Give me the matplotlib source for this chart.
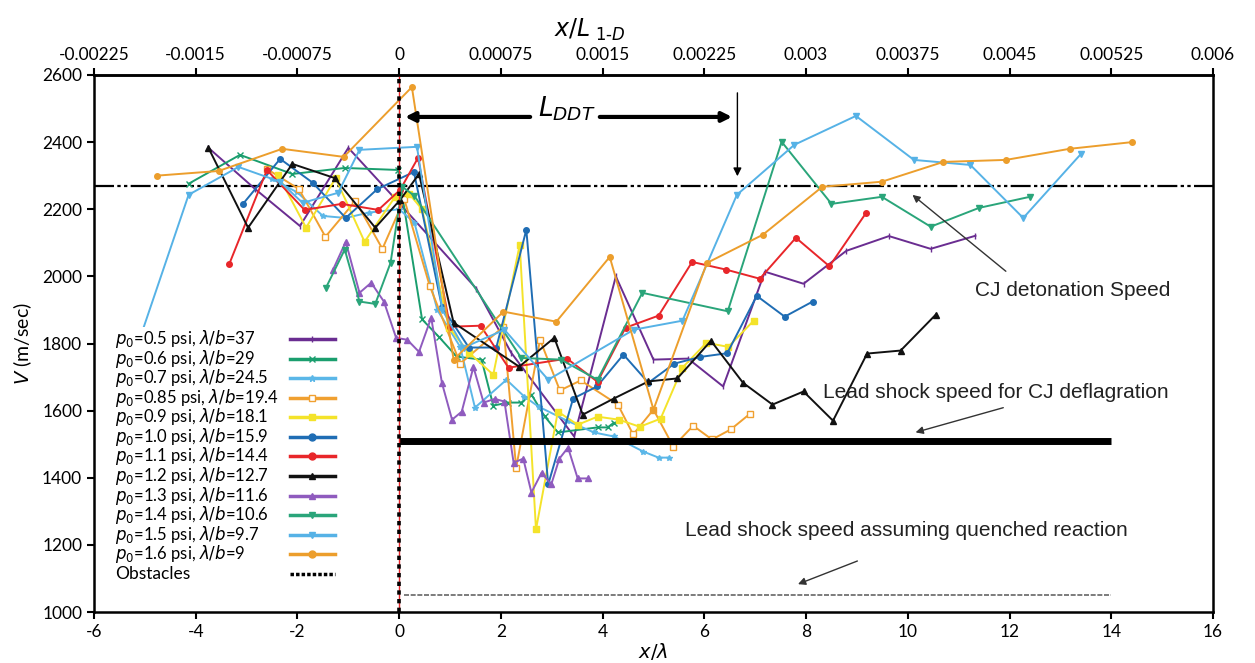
import matplotlib.pyplot as plt
from matplotlib.patches import Rectangle

plt.rcParams['font.family'] = ['Lato', 'DejaVu Sans']
plt.rcParams['mathtext.fontset'] = 'dejavusans'
plt.rcParams['axes.unicode_minus'] = False

# series: label, colour, marker, x/lambda, V (m/s)
labels = [r'$p_0$=0.5 psi, $\lambda/b$=37', r'$p_0$=0.6 psi, $\lambda/b$=29',
          r'$p_0$=0.7 psi, $\lambda/b$=24.5', r'$p_0$=0.85 psi, $\lambda/b$=19.4',
          r'$p_0$=0.9 psi, $\lambda/b$=18.1', r'$p_0$=1.0 psi, $\lambda/b$=15.9',
          r'$p_0$=1.1 psi, $\lambda/b$=14.4', r'$p_0$=1.2 psi, $\lambda/b$=12.7',
          r'$p_0$=1.3 psi, $\lambda/b$=11.6', r'$p_0$=1.4 psi, $\lambda/b$=10.6',
          r'$p_0$=1.5 psi, $\lambda/b$=9.7', r'$p_0$=1.6 psi, $\lambda/b$=9']
colors = ['#6a2d91', '#1a9e6e', '#5bb7e8', '#f0a030', '#f4e32a', '#1f6db4',
          '#e8262a', '#111111', '#8f5bbe', '#2aa57a', '#56b2e6', '#ec9e2c']
markers = ['|', 'x', '*', 's', 's', 'o', 'o', '^', '^', 'v', 'v', 'o']

x05 = [-3.75, -2.83, -1.95, -1.0, 0.05, 1.52, 2.2, 3.44, 4.26, 5.0, 5.68, 6.37, 7.19, 7.95, 8.79, 9.63, 10.45, 11.33]
v05 = [2383, 2260, 2150, 2383, 2210, 1963, 1773, 1523, 2000, 1752, 1755, 1672, 2014, 1978, 2076, 2120, 2082, 2121]
x06 = [-4.14, -3.13, -2.1, -1.07, -0.02, 0.45, 0.78, 1.13, 1.62, 1.85, 2.14, 2.4, 2.6, 2.86, 3.12, 3.9, 4.1, 4.22]
v06 = [2276, 2362, 2305, 2323, 2317, 1872, 1820, 1761, 1752, 1615, 1624, 1624, 1648, 1583, 1535, 1550, 1550, 1564]
x07 = [-2.5, -2.0, -1.5, -1.05, -0.6, 0.0, 0.3, 0.75, 1.2, 1.49, 2.11, 2.46, 2.74, 3.3, 3.83, 4.22, 4.8, 5.1, 5.3]
v07 = [2290, 2250, 2180, 2174, 2190, 2200, 2160, 1900, 1790, 1609, 1692, 1642, 1612, 1570, 1535, 1523, 1478, 1460, 1460]
x085 = [-2.6, -1.97, -1.45, -0.86, -0.33, 0.1, 0.6, 1.2, 2.05, 2.3, 2.77, 3.16, 3.57, 4.3, 4.6, 5.0, 5.39, 5.78, 6.15, 6.52, 6.9]
v085 = [2320, 2260, 2118, 2225, 2082, 2230, 1972, 1740, 1850, 1430, 1811, 1660, 1690, 1618, 1529, 1603, 1493, 1555, 1514, 1544, 1591]
x09 = [-2.38, -1.83, -1.25, -0.68, -0.08, 0.2, 0.45, 0.98, 1.37, 1.85, 2.37, 2.69, 3.12, 3.51, 3.9, 4.32, 4.73, 5.14, 5.57, 6.04, 6.47, 6.97]
v09 = [2302, 2145, 2293, 2103, 2237, 2245, 2200, 1847, 1773, 1707, 2094, 1246, 1597, 1558, 1582, 1573, 1552, 1576, 1728, 1802, 1790, 1868]
x10 = [-3.07, -2.34, -1.7, -1.05, -0.43, 0.29, 0.84, 1.37, 1.91, 2.5, 2.93, 3.42, 3.89, 4.41, 4.9, 5.41, 5.92, 6.45, 7.03, 7.58, 8.13]
v10 = [2216, 2350, 2279, 2174, 2260, 2311, 1910, 1788, 1788, 2139, 1380, 1636, 1672, 1767, 1683, 1740, 1760, 1771, 1942, 1880, 1925]
x11 = [-3.34, -2.6, -1.86, -1.13, -0.41, 0.02, 0.37, 1.0, 1.6, 2.15, 3.3, 3.9, 4.45, 5.1, 5.76, 6.43, 7.09, 7.8, 8.46, 9.18]
v11 = [2037, 2317, 2198, 2216, 2198, 2258, 2353, 1850, 1853, 1728, 1755, 1686, 1847, 1883, 2043, 2020, 1993, 2115, 2030, 2189]
x12 = [-3.75, -2.97, -2.1, -1.27, -0.47, 0.02, 0.39, 1.07, 2.36, 3.05, 3.61, 4.22, 4.9, 5.47, 6.13, 6.76, 7.34, 7.95, 8.53, 9.2, 9.86, 10.55]
v12 = [2383, 2145, 2335, 2293, 2145, 2228, 2305, 1862, 1731, 1817, 1588, 1636, 1687, 1696, 1808, 1683, 1618, 1657, 1570, 1770, 1779, 1886]
x13 = [-1.3, -1.05, -0.78, -0.55, -0.3, -0.06, 0.16, 0.39, 0.63, 0.84, 1.04, 1.23, 1.46, 1.66, 1.88, 2.07, 2.25, 2.44, 2.6, 2.8, 2.99, 3.15, 3.32, 3.51, 3.71]
v13 = [2020, 2103, 1951, 1981, 1925, 1817, 1811, 1775, 1877, 1683, 1573, 1597, 1730, 1624, 1635, 1627, 1445, 1457, 1356, 1415, 1380, 1457, 1490, 1398, 1398]
x14 = [-1.44, -1.07, -0.78, -0.47, -0.17, 0.06, 0.3, 2.4, 3.18, 3.9, 4.78, 6.46, 7.52, 8.5, 9.49, 10.45, 11.4, 12.4]
v14 = [1966, 2080, 1925, 1918, 2040, 2267, 2240, 1757, 1752, 1692, 1951, 1896, 2401, 2216, 2237, 2148, 2204, 2237]
x15 = [-5.4, -4.14, -3.16, -2.34, -1.9, -1.2, -0.78, 0.35, 0.85, 1.27, 2.07, 2.93, 4.61, 5.57, 6.64, 7.77, 8.98, 10.12, 11.23, 12.27, 13.4]
v15 = [1680, 2243, 2326, 2282, 2219, 2249, 2377, 2386, 1900, 1788, 1841, 1692, 1841, 1868, 2243, 2392, 2478, 2347, 2332, 2174, 2364]
x16 = [-4.77, -3.55, -2.3, -1.09, 0.25, 1.07, 2.05, 3.09, 4.14, 5.0, 6.05, 7.15, 8.32, 9.49, 10.7, 11.93, 13.18, 14.41]
v16 = [2300, 2314, 2380, 2356, 2564, 1752, 1895, 1865, 2058, 1603, 2040, 2124, 2267, 2282, 2341, 2347, 2380, 2400]

xs = [x05, x06, x07, x085, x09, x10, x11, x12, x13, x14, x15, x16]
vs = [v05, v06, v07, v085, v09, v10, v11, v12, v13, v14, v15, v16]

v_cj = 2270          # CJ detonation speed
v_defl = 1510        # lead shock for CJ deflagration
v_quench = 1050      # lead shock, quenched reaction
x_ddt = 6.65

fig = plt.figure(figsize=(12.55, 6.63), dpi=100)
ax = fig.add_axes([0.0749, 0.0769, 0.8916, 0.81])

for lab, c, m, x, v in zip(labels, colors, markers, xs, vs):
    mfc = 'white' if m == 's' and c == '#f0a030' else c
    ax.plot(x, v, color=c, marker=m, ms=4, mfc=mfc, mec=c, lw=1.4, label=lab)

# reference lines
ax.axhline(v_cj, color='black', lw=1.6, ls=(0, (9, 1.5, 1.5, 1.5, 1.5, 1.5)), zorder=1)
ax.plot([0, 14], [v_defl, v_defl], color='black', lw=5, solid_capstyle='butt')
ax.plot([0.1, 14], [v_quench, v_quench], color='#666666', lw=1.2, ls=(0, (3, 1)))
ax.axvline(0, color='#e8262a', lw=1, zorder=2)
ax.axvline(0, color='black', lw=2.6, ls=(0, (1.2, 1.2)), zorder=3)

# L_DDT arrows
ax.annotate('', xy=(0.06, 2475), xytext=(2.63, 2475),
            arrowprops=dict(arrowstyle='-|>', color='black', lw=3, mutation_scale=14))
ax.annotate('', xy=(6.6, 2475), xytext=(3.89, 2475),
            arrowprops=dict(arrowstyle='-|>', color='black', lw=3, mutation_scale=14))
ax.text(3.3, 2500, r'$L_{DDT}$', fontsize=19, ha='center', va='center')
ax.annotate('', xy=(x_ddt, 2290), xytext=(x_ddt, 2555),
            arrowprops=dict(arrowstyle='-|>', color='black', lw=1, mutation_scale=12))

# annotations
ann = dict(arrowstyle='-|>', color='#333333', lw=1, mutation_scale=11)
txt = dict(fontsize=15, family='Liberation Sans', va='center', color='#222222')
ax.annotate('', xy=(10.05, 2248), xytext=(11.97, 2010), arrowprops=ann)
ax.text(11.33, 1959, 'CJ detonation Speed', **txt)
ax.annotate('', xy=(10.1, 1533), xytext=(11.93, 1611), arrowprops=ann)
ax.text(8.34, 1655, 'Lead shock speed for CJ deflagration', **txt)
ax.annotate('', xy=(7.79, 1080), xytext=(9.06, 1155), arrowprops=ann)
ax.text(5.62, 1244, 'Lead shock speed assuming quenched reaction', **txt)

ax.set_xlim(-6, 16)
ax.set_ylim(1000, 2600)
ax.set_xticks(range(-6, 17, 2))
ax.set_yticks(range(1000, 2601, 200))
ax.tick_params(direction='out', labelsize=12.5, width=1.5, length=5)
for s in ax.spines.values():
    s.set_linewidth(1.8)
ax.set_xlabel(r'$x/\lambda$', fontsize=14, labelpad=1)
ax.set_ylabel(r'$V$ (m/sec)', fontsize=14, labelpad=6)

top = ax.secondary_xaxis('top', functions=(lambda x: x * 0.000375, lambda t: t / 0.000375))
top_ticks = [-0.00225, -0.0015, -0.00075, 0, 0.00075, 0.0015, 0.00225, 0.003,
             0.00375, 0.0045, 0.00525, 0.006]
top.set_xticks(top_ticks)
top.set_xticklabels([('%.5f' % t).rstrip('0').rstrip('.') if t != 0 else '0' for t in top_ticks])
top.tick_params(direction='out', labelsize=12.5, width=1.5, length=5)
top.spines['top'].set_linewidth(1.8)
fig.text(0.47, 0.955, r'$x/L_{\ 1\text{-}D}$', fontsize=17, ha='center', va='center')

# legend: text on the left, sample line on the right (drawn in axes coordinates)
tr = ax.transAxes
ax.add_patch(Rectangle((0.012, 0.05), 0.21, 0.48, transform=tr, facecolor='white',
                       edgecolor='none', zorder=5))
row0, step = 0.508, 0.0364
tx, hx0, hx1 = 0.019, 0.175, 0.215
for i, (lab, c, m) in enumerate(zip(labels, colors, markers)):
    y = row0 - i * step
    ax.text(tx, y, lab, transform=tr, fontsize=12, va='center', ha='left', zorder=6)
    mfc = 'white' if m == 's' and c == '#f0a030' else c
    ax.plot([hx0, (hx0 + hx1) / 2, hx1], [y, y, y], transform=tr, color=c, lw=2.5,
            marker=m, markevery=[1], ms=5, mfc=mfc, mec=c, zorder=6, clip_on=False)
y = row0 - len(labels) * step
ax.text(tx, y, 'Obstacles', transform=tr, fontsize=12.5, va='center', ha='left', zorder=6)
ax.plot([hx0, hx1], [y, y], transform=tr, color='black', lw=2.5, ls=(0, (1, 0.6)), zorder=6)

fig.savefig('out.png', dpi=100)
